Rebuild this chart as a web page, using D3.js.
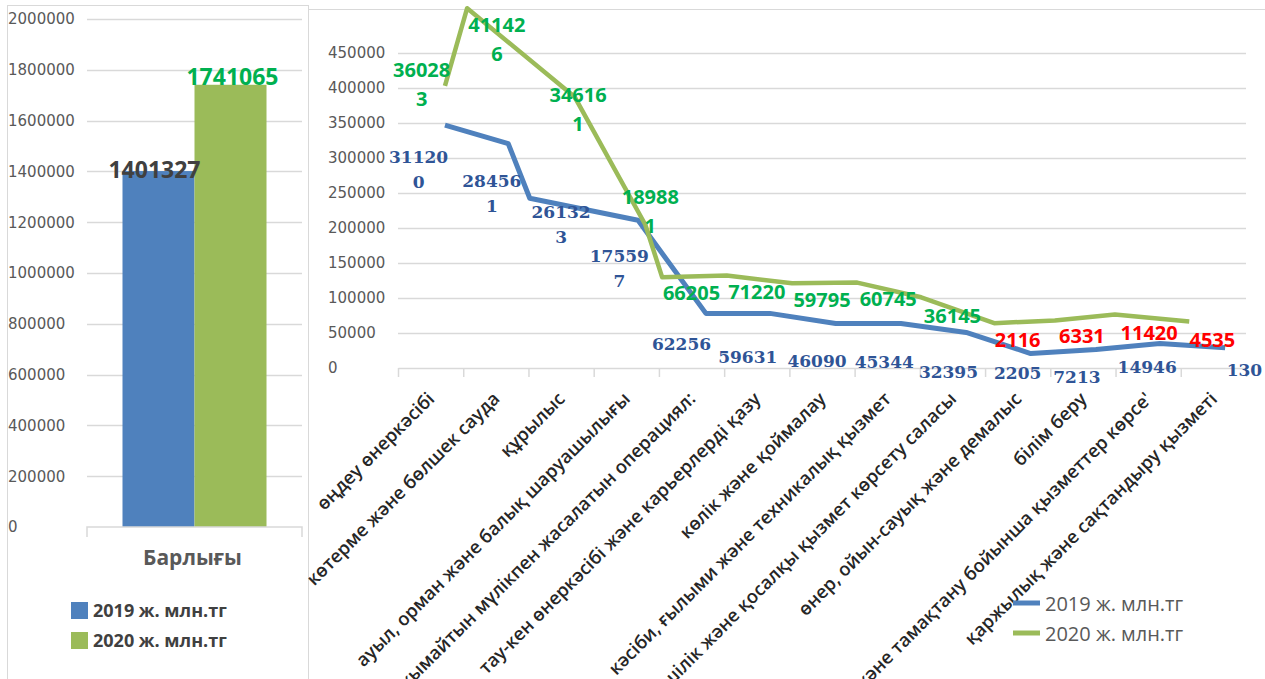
<!DOCTYPE html>
<html>
<head>
<meta charset="utf-8">
<script src="https://cdn.jsdelivr.net/npm/d3@7"></script>
<style>
  body { margin: 0; background: #fff; }
  svg { display: block; }
</style>
</head>
<body>
<svg id="chart" width="1265" height="679"></svg>
<script>
// ---- data ----
var totalCategories = ["Барлығы"];
var seriesNames = ["2019 ж. млн.тг", "2020 ж. млн.тг"];
var totals = [1401327, 1741065];

var sectors = [
  "өңдеу өнеркәсібі",
  "көтерме және бөлшек сауда",
  "құрылыс",
  "ауыл, орман және балық шаруашылығы",
  "жылжымайтын мүлікпен жасалатын операциял:",
  "тау-кен өнеркәсібі және карьерлерді қазу",
  "көлік және қоймалау",
  "кәсіби, ғылыми және техникалық қызмет",
  "әкімшілік және қосалқы қызмет көрсету саласы",
  "өнер, ойын-сауық және демалыс",
  "білім беру",
  "тұру және тамақтану бойынша қызметтер көрсе'",
  "қаржылық және сақтандыру қызметі"
];

// numbers printed on the chart
var labels2019 = [311200, 284561, 261323, 175597, 62256, 59631, 46090, 45344, 32395, 2205, 7213, 14946, 130];
var labels2020 = [360283, 411426, 346161, 189881, 66205, 71220, 59795, 60745, 36145, 2116, 6331, 11420, 4535];

// where the two lines are actually drawn (value, and position in category slots)
var line2019 = [347000, 320500, 242500, 211000, 78000, 78000, 63700, 63700, 50800, 20700, 26500, 35000, 29000];
var line2020 = [403000, 514000, 387000, 205000, 129500, 132000, 121000, 122000, 101000, 64000, 68000, 76500, 66500];
var slot2019 = [0.72, 1.69, 2.02, 3.68, 4.72, 5.70, 6.71, 7.71, 8.71, 9.70, 10.70, 11.68, 12.68];
var slot2020 = [0.72, 1.06, 2.71, 3.79, 4.05, 5.04, 6.04, 7.04, 8.02, 9.14, 10.07, 10.99, 12.13];

var totalTicks = d3.range(0, 2000001, 200000);
var sectorTicks = d3.range(0, 450001, 50000);

// ---- layout ----
var blue = "#4f81bd", green = "#9bbb59", grid = "#d9d9d9", axisText = "#595959";
// label nudges [dx, dy] from (category centre, line point)
var nudge2019 = [[-12,38],[-4,43],[0,20],[-7,42],[-10,37],[-9,50],[-5,44],[-3,45],[-4,46],[0,25],[-6,34],[-1,29],[31,28]];
var nudge2020 = [[-9,-9],[1,24],[17,5],[24,-21],[0,23],[0,23],[0,24],[1,23],[0,26],[0,24],[-1,23],[1,26],[-1,26]];

var svg = d3.select("#chart");

// frames
svg.append("rect")
  .attr("x", 7.5).attr("y", 5.5).attr("width", 301).attr("height", 720)
  .attr("fill", "none").attr("stroke", grid);
svg.append("line")
  .attr("x1", 308).attr("x2", 1265).attr("y1", 9.5).attr("y2", 9.5)
  .attr("stroke", grid);

// ============ left: totals bar chart ============
var yTot = d3.scaleLinear().domain([0, 2000000]).range([527, 19]);
var xTot = d3.scaleBand().domain(totalCategories).range([87, 302])
  .paddingInner(0).paddingOuter(0.2465);
var xSer = d3.scaleBand().domain(seriesNames).range([0, xTot.bandwidth()]);

var left = svg.append("g");

left.append("g")
  .selectAll("line")
  .data(totalTicks.slice(1))
  .enter().append("line")
  .attr("x1", 87).attr("x2", 302)
  .attr("y1", function(d) { return Math.round(yTot(d)) + 0.5; })
  .attr("y2", function(d) { return Math.round(yTot(d)) + 0.5; })
  .attr("stroke", grid).attr("stroke-width", 1.5);

left.append("g")
  .selectAll("text")
  .data(totalTicks)
  .enter().append("text")
  .attr("x", 8)
  .attr("y", function(d) { return yTot(d); })
  .attr("dy", "0.36em")
  .attr("font-family", "DejaVu Sans")
  .attr("font-size", 15)
  .attr("fill", axisText)
  .text(function(d) { return d; });

left.append("g")
  .selectAll("rect")
  .data(totals)
  .enter().append("rect")
  .attr("x", function(d, i) { return xTot(totalCategories[0]) + xSer(seriesNames[i]); })
  .attr("width", xSer.bandwidth())
  .attr("y", function(d) { return yTot(d); })
  .attr("height", function(d) { return yTot(0) - yTot(d); })
  .attr("fill", function(d, i) { return i ? green : blue; });

// bottom axis of the bar chart
var axisTot = d3.axisBottom(xTot).tickSize(0).tickFormat("");
var gAxTot = left.append("g").attr("transform", "translate(0,527)").call(axisTot);
gAxTot.select(".domain").remove();
gAxTot.append("path")
  .attr("d", "M87,10V0H302V10")
  .attr("fill", "none").attr("stroke", grid).attr("stroke-width", 1.5);

left.append("text")
  .attr("x", xTot(totalCategories[0]) + xTot.bandwidth() / 2 - 2)
  .attr("y", 565)
  .attr("text-anchor", "middle")
  .attr("font-family", "Open Sans").attr("font-weight", 700).attr("font-size", 21)
  .attr("fill", axisText)
  .text(totalCategories[0]);

left.append("g")
  .selectAll("text")
  .data(totals)
  .enter().append("text")
  .attr("x", function(d, i) { return xTot(totalCategories[0]) + xSer(seriesNames[i]) + xSer.bandwidth() / 2 + (i ? 2 : -4); })
  .attr("y", function(d, i) { return yTot(d) + (i ? 0 : 7); })
  .attr("text-anchor", "middle")
  .attr("font-family", "Open Sans").attr("font-weight", 700).attr("font-size", 23)
  .attr("fill", function(d, i) { return i ? "#00b050" : "#404040"; })
  .text(function(d) { return d; });

var legL = left.append("g")
  .selectAll("g")
  .data(seriesNames)
  .enter().append("g")
  .attr("transform", function(d, i) { return "translate(71," + (602 + i * 30) + ")"; });
legL.append("rect").attr("width", 17).attr("height", 17)
  .attr("fill", function(d, i) { return i ? green : blue; });
legL.append("text")
  .attr("x", 22).attr("y", 15)
  .attr("font-family", "Open Sans").attr("font-weight", 700).attr("font-size", 18)
  .attr("fill", "#404040")
  .text(function(d) { return d; });

// ============ right: sectors line chart ============
var slot = d3.scaleLinear().domain([0, sectors.length]).range([398, 1246]);
var ySec = d3.scaleLinear().domain([0, 450000]).range([368, 53]);
var xCat = d3.scaleBand().domain(sectors).range([398, 1246]);

var right = svg.append("g");

right.append("g")
  .selectAll("line")
  .data(sectorTicks.slice(1))
  .enter().append("line")
  .attr("x1", 398).attr("x2", 1246)
  .attr("y1", function(d) { return Math.round(ySec(d)) + 0.5; })
  .attr("y2", function(d) { return Math.round(ySec(d)) + 0.5; })
  .attr("stroke", grid).attr("stroke-width", 1.5);

right.append("g")
  .selectAll("text")
  .data(sectorTicks)
  .enter().append("text")
  .attr("x", 328)
  .attr("y", function(d) { return ySec(d); })
  .attr("dy", "0.36em")
  .attr("font-family", "DejaVu Sans")
  .attr("font-size", 15)
  .attr("fill", axisText)
  .text(function(d) { return d; });

var axisSec = d3.axisBottom(slot)
  .tickValues(d3.range(0, sectors.length + 1))
  .tickSize(9).tickSizeOuter(0).tickFormat("");
var gAxSec = right.append("g").attr("transform", "translate(0,368)").call(axisSec);
gAxSec.selectAll("path, line").attr("stroke", grid).attr("stroke-width", 1.5);

// slanted sector names; the long ones run off the bottom edge as in the source
right.append("g")
  .selectAll("text")
  .data(sectors)
  .enter().append("text")
  .attr("transform", function(d) {
    return "translate(" + (xCat(d) + xCat.bandwidth() / 2 + 5) + ",400) rotate(-45)";
  })
  .attr("text-anchor", "end")
  .attr("font-family", "Open Sans").attr("font-weight", 600).attr("font-size", 18.4)
  .attr("fill", "#262626")
  .text(function(d) { return d; });

var lineGen = function(slots) {
  return d3.line()
    .x(function(d, i) { return slot(slots[i]); })
    .y(function(d) { return ySec(d); });
};

right.append("path")
  .datum(line2019)
  .attr("d", lineGen(slot2019))
  .attr("fill", "none").attr("stroke", blue).attr("stroke-width", 5)
  .attr("stroke-linejoin", "round");

right.append("path")
  .datum(line2020)
  .attr("d", lineGen(slot2020))
  .attr("fill", "none").attr("stroke", green).attr("stroke-width", 4.5)
  .attr("stroke-linejoin", "round");

function addLabels(values, lineVals, slots, nudge, opts) {
  var t = right.append("g")
    .selectAll("text")
    .data(values)
    .enter().append("text")
    .attr("text-anchor", "middle")
    .attr("font-family", opts.font).attr("font-weight", 700).attr("font-size", opts.size)
    .attr("fill", opts.color);
  t.each(function(d, i) {
    var cx = xCat(sectors[i]) + xCat.bandwidth() / 2 + nudge[i][0];
    var cy = ySec(lineVals[i]) + nudge[i][1];
    var s = String(d);
    var parts = s.length > 5 ? [s.slice(0, 5), s.slice(5)] : [s];
    var el = d3.select(this);
    parts.forEach(function(p, j) {
      el.append("tspan").attr("x", cx).attr("y", cy + j * opts.lead).text(p);
    });
  });
}

addLabels(labels2019, line2019, slot2019, nudge2019,
  { font: "DejaVu Serif", size: 17, lead: 25, color: function() { return "#2f5496"; } });
addLabels(labels2020, line2020, slot2020, nudge2020,
  { font: "Open Sans", size: 20, lead: 29, color: function(d, i) { return i >= 9 ? "#ff0000" : "#00b050"; } });

var legR = right.append("g")
  .selectAll("g")
  .data(seriesNames)
  .enter().append("g")
  .attr("transform", function(d, i) { return "translate(1013," + (603 + i * 30) + ")"; });
legR.append("line")
  .attr("x1", 0).attr("x2", 27)
  .attr("stroke", function(d, i) { return i ? green : blue; })
  .attr("stroke-width", 5);
legR.append("text")
  .attr("x", 32).attr("y", 8)
  .attr("font-family", "Open Sans").attr("font-size", 20)
  .attr("fill", axisText)
  .text(function(d) { return d; });
</script>
</body>
</html>
